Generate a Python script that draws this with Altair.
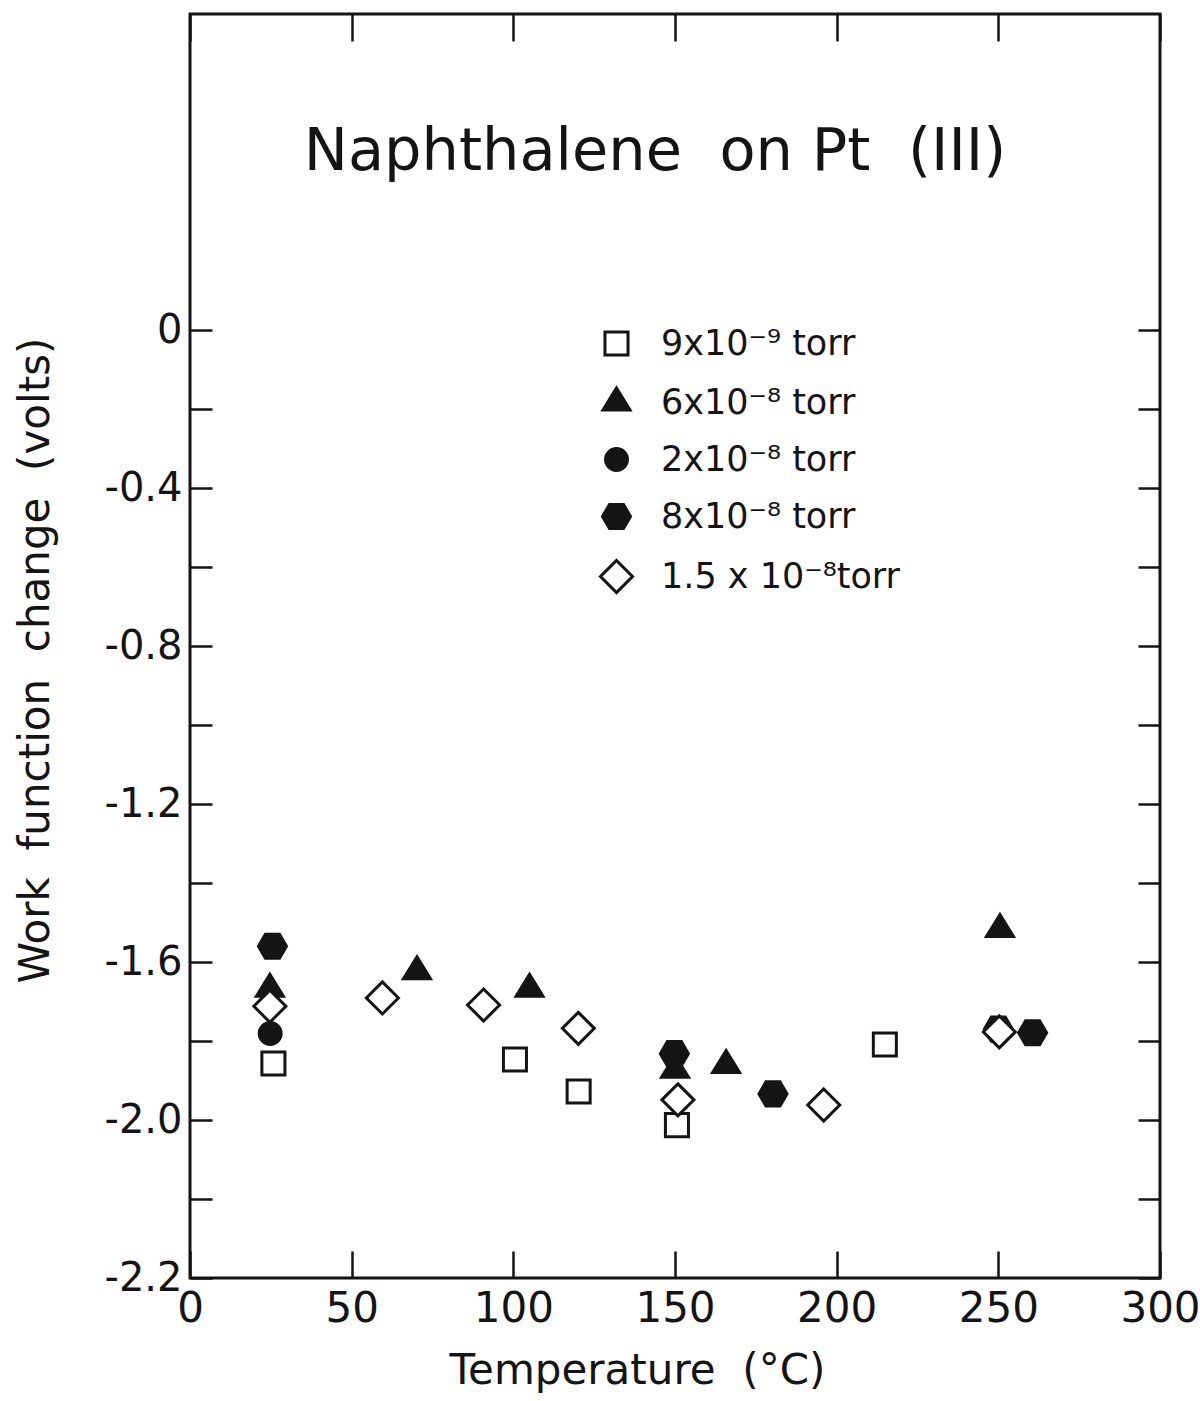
import altair as alt
import pandas as pd

INK = "#141414"
FONT = "DejaVu Sans"
NB = "\u00a0"

# ---- data ----
series = ["9x10⁻⁹ torr", "6x10⁻⁸ torr", "2x10⁻⁸ torr", "8x10⁻⁸ torr", "1.5 x 10⁻⁸torr"]

sq_temp = [25.8, 100.5, 120.2, 150.6, 214.9]
sq_wf = [-1.857, -1.847, -1.928, -2.013, -1.809]

tri_temp = [24.7, 70.2, 105.0, 150.0, 165.8, 250.5]
tri_wf = [-1.668, -1.624, -1.668, -1.873, -1.861, -1.517]

circ_temp = [24.8]
circ_wf = [-1.781]

hex_temp = [25.5, 149.8, 180.3, 250.0, 260.6]
hex_wf = [-1.560, -1.832, -1.934, -1.770, -1.779]

dia_temp = [24.7, 59.5, 90.8, 120.1, 150.9, 196.0, 250.3]
dia_wf = [-1.712, -1.691, -1.709, -1.768, -1.949, -1.962, -1.777]

x_tick_values = [0, 50, 100, 150, 200, 250, 300]
y_tick_values = [0, -0.2, -0.4, -0.6, -0.8, -1.0, -1.2, -1.4, -1.6, -1.8, -2.0, -2.2, -2.4]
y_label_values = [0, -0.4, -0.8, -1.2, -1.6, -2.0, -2.4]
y_label_text = ["0", "-0.4", "-0.8", "-1.2", "-1.6", "-2.0", "-2.2"]

title_text = "Naphthalene" + NB * 2 + "on" + NB + "Pt" + NB * 2 + "(III)"
x_title = "Temperature" + NB * 2 + "(°C)"
y_title = NB.join(["Work", "", "function", "", "change", "", "(volts)"])

# ---- symbols (unit square -1..1) ----
SQUARE = "M-0.64,-0.64H0.64V0.64H-0.64Z"
TRIANGLE = "M0,-0.81L0.75,0.41L-0.75,0.41Z"
CIRCLE = "M0.61,0A0.61,0.61,0,1,1,-0.61,0A0.61,0.61,0,1,1,0.61,0Z"
HEXAGON = "M-0.78,0L-0.39,-0.67L0.39,-0.67L0.78,0L0.39,0.67L-0.39,0.67Z"
DIAMOND = "M0,-0.89L0.89,0L0,0.89L-0.89,0Z"
shapes = [SQUARE, TRIANGLE, CIRCLE, HEXAGON, DIAMOND]
fills = ["white", INK, INK, INK, "white"]
strokes = [INK] * 5

rows = []
for name, ts, vs in zip(series,
                        [sq_temp, tri_temp, circ_temp, hex_temp, dia_temp],
                        [sq_wf, tri_wf, circ_wf, hex_wf, dia_wf]):
    for t, v in zip(ts, vs):
        rows.append({"series": name, "temp": t, "wf": v})
df = pd.DataFrame(rows)
df["order"] = range(len(df))

label_expr = ""
for v, t in zip(y_label_values, y_label_text):
    label_expr += f"abs(datum.value - ({v})) < 0.01 ? '{t}' : "
label_expr += "''"

legend = alt.Legend(
    title=None, orient="none", legendX=407, legendY=310, padding=0,
    labelFont=FONT, labelFontSize=35, labelColor=INK, labelOffset=25,
    symbolSize=1296, symbolStrokeWidth=3, symbolStrokeColor=INK,
    rowPadding=19, labelLimit=600,
)

chart = alt.Chart(df).mark_point(
    filled=True, size=1296, strokeWidth=3, opacity=1, fillOpacity=1, strokeOpacity=1
).encode(
    x=alt.X("temp:Q", scale=alt.Scale(domain=[0, 300], nice=False, zero=False),
            axis=alt.Axis(values=x_tick_values, title=x_title, format="d",
                          labelFont=FONT, labelFontSize=42, labelColor=INK, labelPadding=10,
                          ticks=False, domain=False, grid=True, gridColor=INK, gridWidth=2.5,
                          gridDash=[27, 1210, 27, 60], labelFlush=False,
                          titleFont=FONT, titleFontSize=42, titleFontWeight="normal",
                          titleColor=INK, titleX=447, titleY=92, titleBaseline="middle")),
    y=alt.Y("wf:Q", scale=alt.Scale(domain=[-2.4, 0.8], nice=False, zero=False),
            axis=alt.Axis(values=y_tick_values, labelExpr=label_expr, title=y_title,
                          labelFont=FONT, labelFontSize=40, labelColor=INK, labelPadding=8,
                          ticks=False, domain=False, grid=True, gridColor=INK, gridWidth=2.5,
                          gridDash=[22, 926, 22, 60], labelFlush=False, labelOverlap=False,
                          titleFont=FONT, titleFontSize=42, titleFontWeight="normal",
                          titleColor=INK, titleX=-155, titleY=646, titleBaseline="middle",
                          titleAngle=270)),
    shape=alt.Shape("series:N", scale=alt.Scale(domain=series, range=shapes), legend=legend),
    fill=alt.Fill("series:N", scale=alt.Scale(domain=series, range=fills), legend=legend),
    stroke=alt.Stroke("series:N", scale=alt.Scale(domain=series, range=strokes), legend=legend),
    order=alt.Order("order:Q"),
).properties(
    width=970, height=1264,
    title=alt.TitleParams(text=title_text, font=FONT, fontSize=59,
                          fontWeight="normal", color=INK, anchor="middle", frame="group",
                          baseline="alphabetic", offset=0, dy=215, dx=-20),
    autosize=alt.AutoSizeParams(type="none"),
    padding={"left": 190, "top": 14, "right": 40, "bottom": 123},
    background="white",
).configure_view(stroke=INK, strokeWidth=3)

chart.save("out.html", embed_options={"renderer": "svg", "actions": False})
